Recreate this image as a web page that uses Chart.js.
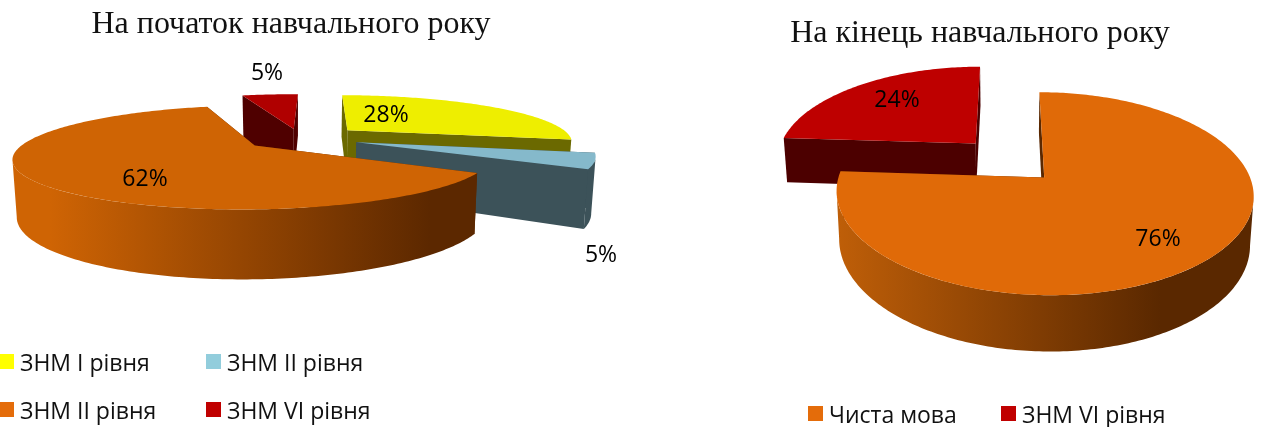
<!DOCTYPE html>
<html lang="uk">
<head>
<meta charset="utf-8">
<title>Рівень мовлення</title>
<script src="https://cdn.jsdelivr.net/npm/chart.js@4"></script>
<style>
    html, body { margin: 0; background: #fff; overflow: hidden; }
    body { position: relative; width: 1262px; height: 427px; }
    canvas { position: absolute; top: 0; }
    #graficoInicio { left: 0; }
    #graficoFin { left: 640px; }
    .leyenda { position: absolute; font: 23px "Open Sans", sans-serif; color: #111; white-space: nowrap; line-height: 24px; }
    .leyenda i { position: absolute; width: 15px; height: 15px; top: 4px; left: -21px; }
</style>
</head>
<body>
<canvas id="graficoInicio" width="640" height="427"></canvas>
<canvas id="graficoFin" width="622" height="427"></canvas>
<script>
const tituloInicio = 'На початок навчального року';
const categoriasInicio = ['ЗНМ I рівня', 'ЗНМ II рівня', 'ЗНМ II рівня', 'ЗНМ VI рівня'];
const valoresInicio = [28, 5, 62, 5];

const tituloFin = 'На кінець навчального року';
const categoriasFin = ['Чиста мова', 'ЗНМ VI рівня'];
const valoresFin = [76, 24];

// colores de la cara superior, de los lados y de la leyenda
const caraInicio = ['#eeee00', '#85b9cb', '#cf6404', '#b00000'];
const ladoInicio = ['#6b6900', '#3c5259', '#5c2800', '#4f0000'];
const leyendaInicio = ['#ffff00', '#92cddc', '#e46c0a', '#c00000'];
const caraFin = ['#e06a08', '#be0000'];
const ladoFin = ['#5a2800', '#4c0000'];
const leyendaFin = ['#e46c0a', '#c00000'];

const pastel3d = {
    id: 'pastel3d',
    beforeDatasetDraw(chart, args, opts) {
        const ctx = chart.ctx;
        const arcos = chart.getDatasetMeta(args.index).data;
        const R = arcos[0].outerRadius;

        // proyeccion en perspectiva: z = 0 arriba, z = 1 abajo
        const proyectar = (ang, r, ox, oy, z) => {
            const u = ox + Math.cos(ang) * r;
            const v = oy + Math.sin(ang) * r;
            const s = 1 / (1 - opts.persp * v);
            return {
                x: opts.cx + R * u * s * (1 - 0.015 * z),
                y: opts.cy + opts.incl * v * s + opts.alto * z * s
            };
        };
        const poligono = (puntos, relleno) => {
            ctx.beginPath();
            puntos.forEach((p, i) => i ? ctx.lineTo(p.x, p.y) : ctx.moveTo(p.x, p.y));
            ctx.closePath();
            ctx.fillStyle = relleno;
            ctx.fill();
        };

        opts.orden.forEach(i => {
            const arco = arcos[i];
            const ini = arco.startAngle;
            const fin = arco.endAngle;
            const medio = (ini + fin) / 2;
            const ox = Math.cos(medio) * arco.options.offset / R;
            const oy = Math.sin(medio) * arco.options.offset / R;
            const borde = (a, b, z) => {
                const pts = [];
                const pasos = Math.max(2, Math.ceil((b - a) * 60));
                for (let k = 0; k <= pasos; k++) {
                    pts.push(proyectar(a + (b - a) * k / pasos, 1, ox, oy, z));
                }
                return pts;
            };
            const centro = z => proyectar(0, 0, ox, oy, z);

            // paredes de los cortes
            [ini, fin].forEach(a => {
                poligono([centro(0), proyectar(a, 1, ox, oy, 0), proyectar(a, 1, ox, oy, 1), centro(1)], opts.lado[i]);
            });

            // pared exterior: solo entre los extremos derecho e izquierdo del borde,
            // si no el poligono se dobla y queda un hueco
            let aDer = 0;
            let aIzq = Math.PI;
            for (let a = -0.6; a < Math.PI + 0.6; a += 0.01) {
                const x = proyectar(a, 1, ox, oy, 0).x;
                if (x > proyectar(aDer, 1, ox, oy, 0).x) aDer = a;
                if (x < proyectar(aIzq, 1, ox, oy, 0).x) aIzq = a;
            }
            const a0 = Math.max(ini, aDer);
            const a1 = Math.min(fin, aIzq);
            if (a1 > a0) {
                let relleno = opts.lado[i];
                if (opts.degradado[i]) {
                    relleno = ctx.createLinearGradient(opts.degradadoX[0], 0, opts.degradadoX[1], 0);
                    relleno.addColorStop(0, opts.degradado[i]);
                    relleno.addColorStop(1, opts.lado[i]);
                }
                poligono(borde(a0, a1, 0).concat(borde(a0, a1, 1).reverse()), relleno);
            }

            // cara superior
            poligono([centro(0)].concat(borde(ini, fin, 0)), opts.cara[i]);
        });
        return false;
    },
    afterDatasetsDraw(chart, args, opts) {
        const ctx = chart.ctx;
        ctx.save();
        ctx.font = opts.fuenteEtiqueta;
        ctx.fillStyle = '#000';
        ctx.textAlign = 'center';
        ctx.textBaseline = 'middle';
        chart.data.datasets[0].data.forEach((valor, i) => {
            ctx.fillText(valor + '%', opts.etiquetas[i][0], opts.etiquetas[i][1]);
        });
        ctx.restore();
    }
};

function crearPastel(idCanvas, titulo, categorias, valores, pad, opcionesTitulo, rotacion, radio, offsets, opciones3d) {
    return new Chart(document.getElementById(idCanvas), {
        type: 'pie',
        data: {
            labels: categorias,
            datasets: [{ data: valores, offset: offsets, borderWidth: 0, radius: radio }]
        },
        plugins: [pastel3d],
        options: {
            responsive: false,
            animation: false,
            events: [],
            rotation: rotacion,
            layout: { padding: pad },
            plugins: {
                legend: { display: false },
                tooltip: { enabled: false },
                title: {
                    display: true,
                    text: titulo,
                    color: '#111',
                    font: opcionesTitulo.font,
                    padding: opcionesTitulo.padding
                },
                pastel3d: opciones3d
            }
        }
    });
}

crearPastel('graficoInicio', tituloInicio, categoriasInicio, valoresInicio,
    { right: 58 },
    { font: { family: '"Liberation Serif"', size: 32, weight: 'normal' }, padding: { top: 5, bottom: 0 } },
    1, 225, [63, 59, 56, 47], {
        cx: 300, cy: 138, persp: 0.222, incl: 46, alto: 52,
        orden: [3, 0, 1, 2],
        cara: caraInicio,
        lado: ladoInicio,
        degradado: [null, null, '#cf6404', null],
        degradadoX: [50, 430],
        etiquetas: [[386, 115], [601, 255], [145, 179], [267, 73]],
        fuenteEtiqueta: '23px "Open Sans", sans-serif'
    });

crearPastel('graficoFin', tituloFin, categoriasFin, valoresFin,
    { left: 58 },
    { font: { family: '"Liberation Serif"', size: 32, weight: 'normal' }, padding: { top: 14, bottom: 0 } },
    0, 200, [50, 50], {
        cx: 369, cy: 160, persp: 0.155, incl: 93.4, alto: 46,
        orden: [1, 0],
        cara: caraFin,
        lado: ladoFin,
        degradado: ['#be5e08', null],
        degradadoX: [200, 520],
        etiquetas: [[518, 239], [257, 100]],
        fuenteEtiqueta: '23px "Open Sans", sans-serif'
    });

// leyendas como texto real
function crearLeyenda(categorias, colores, posiciones) {
    categorias.forEach((cat, i) => {
        const item = document.createElement('div');
        item.className = 'leyenda';
        item.style.left = posiciones[i][0] + 'px';
        item.style.top = posiciones[i][1] + 'px';
        item.innerHTML = '<i style="background:' + colores[i] + '"></i>' + cat;
        document.body.appendChild(item);
    });
}
crearLeyenda(categoriasInicio, leyendaInicio, [[20, 350], [227, 350], [20, 398], [227, 398]]);
crearLeyenda(categoriasFin, leyendaFin, [[829, 402], [1022, 402]]);
</script>
</body>
</html>
